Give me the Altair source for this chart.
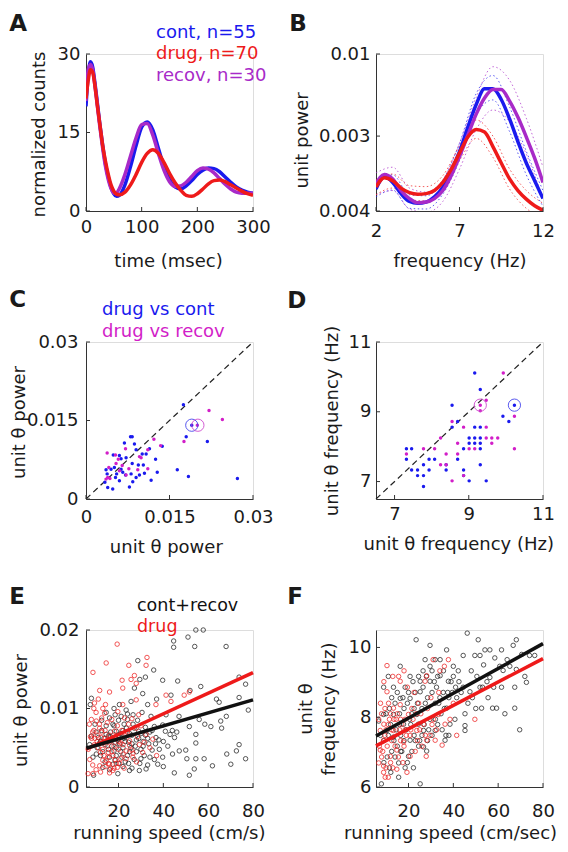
import json
import altair as alt
import pandas as pd

FONT = "DejaVu Sans"
BLUE = "#1a1aee"
RED = "#ee1a1a"
PURPLE = "#a82ac8"
MAGENTA = "#d21ec8"
AXC = "#333333"
TXT = "#1a1a1a"
W, H = 167, 157

# ---------------- Panel A: autocorrelograms ----------------
lag_ms = [0, 4, 8, 12, 16, 20, 25, 30, 35, 40, 45, 50, 55, 60, 70, 80, 90, 100, 110, 120,
          130, 140, 150, 160, 170, 180, 190, 200, 210, 220, 230, 240, 250, 260, 270, 280, 290, 300]
cont_counts = [20, 26, 28.5, 27.5, 24.5, 21, 16.5, 12.5, 9, 6.5, 4.5, 3.3, 2.8, 3, 5, 8.5, 12.5, 16, 17, 15.5,
               12, 8.5, 6, 4.6, 4.2, 4.8, 5.8, 7, 7.8, 8.2, 8.1, 7.5, 6.5, 5.5, 4.6, 4, 3.6, 3.4]
drug_counts = [21.5, 25, 27, 26.5, 24, 20.5, 16.5, 12.5, 9.5, 7, 5, 3.8, 3.2, 3.1, 3.6, 5, 7, 9.3, 11, 11.7,
               11, 9.3, 7.2, 5.4, 4, 3, 2.8, 3.3, 4.2, 5.2, 5.8, 5.9, 5.6, 5, 4.4, 3.8, 3.3, 3]
recov_counts = [21, 27, 28, 27, 24, 20.5, 16, 12, 8.5, 6, 4.3, 3.4, 3.5, 4.3, 7, 10.5, 14, 16.5, 16.7, 14.5,
                11, 7.8, 5.6, 4.7, 4.8, 5.5, 6.6, 7.7, 8.2, 8, 7.3, 6.2, 5.1, 4.2, 3.6, 3.4, 3.4, 3.4]
A_legend = ["cont, n=55", "drug, n=70", "recov, n=30"]
A_xticks, A_xlabels = [0, 100, 200, 300], ["0", "100", "200", "300"]
A_yticks, A_ylabels = [0, 15, 30], ["0", "15", "30"]

# ---------------- Panel B: power spectra ----------------
freq_hz = [2, 2.5, 3, 3.5, 4, 4.5, 5, 5.5, 6, 6.5, 7, 7.5, 8, 8.5, 9, 9.5, 10, 10.5, 11, 11.5, 12]
cont_power = [0.00138, 0.00165, 0.00152, 0.00129, 0.00115, 0.00112, 0.00114, 0.00123, 0.00142, 0.00180, 0.00239,
              0.00342, 0.00477, 0.00600, 0.00600, 0.00513, 0.00386, 0.00276, 0.00202, 0.00156, 0.00120]
recov_power = [0.00149, 0.00171, 0.00160, 0.00135, 0.00120, 0.00113, 0.00114, 0.00120, 0.00135, 0.00168, 0.00223,
               0.00304, 0.00414, 0.00525, 0.00595, 0.00595, 0.00501, 0.00395, 0.00296, 0.00217, 0.00152]
drug_power = [0.00142, 0.00163, 0.00156, 0.00140, 0.00131, 0.00128, 0.00129, 0.00135, 0.00152, 0.00184, 0.00234,
              0.00296, 0.00330, 0.00318, 0.00257, 0.00202, 0.00160, 0.00135, 0.00119, 0.00108, 0.00101]
band_freq = [2, 3, 4, 5, 6, 7, 8, 9, 10, 11, 12]
cont_upper = [0.00155, 0.00170, 0.00127, 0.00125, 0.00157, 0.00270, 0.00560, 0.00730, 0.00460, 0.00240, 0.00135]
cont_lower = [0.00123, 0.00136, 0.00104, 0.00103, 0.00128, 0.00210, 0.00410, 0.00510, 0.00320, 0.00170, 0.00107]
recov_upper = [0.00175, 0.00190, 0.00140, 0.00132, 0.00158, 0.00270, 0.00530, 0.00830, 0.00680, 0.00390, 0.00190]
recov_lower = [0.00127, 0.00135, 0.00103, 0.00098, 0.00115, 0.00185, 0.00330, 0.00440, 0.00370, 0.00230, 0.00120]
drug_upper = [0.00158, 0.00172, 0.00145, 0.00143, 0.00168, 0.00260, 0.00380, 0.00300, 0.00185, 0.00135, 0.00112]
drug_lower = [0.00127, 0.00140, 0.00118, 0.00116, 0.00137, 0.00210, 0.00290, 0.00220, 0.00138, 0.00104, 0.00091]
B_xticks, B_xlabels = [2, 7, 12], ["2", "7", "12"]
B_yticks, B_ylabels = [0.001, 0.003, 0.01], ["0.004", "0.003", "0.01"]

# ---------------- Panel C: unit theta power ----------------
C_cont_x = [0.0175, 0.0190, 0.0180, 0.0218, 0.0164, 0.0184, 0.0272, 0.0080, 0.0083, 0.0069, 0.0087, 0.0137, 0.0090,
            0.0114, 0.0101, 0.0108, 0.0060, 0.0049, 0.0083, 0.0094, 0.0103, 0.0125, 0.0128, 0.0051, 0.0063, 0.0036,
            0.0045, 0.0071, 0.0081, 0.0090, 0.0096, 0.0105, 0.0084, 0.0117, 0.0060, 0.0055, 0.0034, 0.0039, 0.0048,
            0.0078, 0.0053, 0.0066, 0.0038, 0.0072, 0.0063]
C_cont_y = [0.0180, 0.0141, 0.0119, 0.0110, 0.0056, 0.0043, 0.0039, 0.0119, 0.0119, 0.0107, 0.0105, 0.0101, 0.0094,
            0.0096, 0.0086, 0.0086, 0.0083, 0.0084, 0.0068, 0.0065, 0.0065, 0.0076, 0.0051, 0.0060, 0.0057, 0.0056,
            0.0057, 0.0046, 0.0048, 0.0041, 0.0046, 0.0049, 0.0033, 0.0036, 0.0035, 0.0048, 0.0032, 0.0022, 0.0019,
            0.0023, 0.0041, 0.0051, 0.0048, 0.0079, 0.0077]
C_recov_x = [0.0221, 0.0245, 0.0200, 0.0176, 0.0122, 0.0134, 0.0071, 0.0038, 0.0053, 0.0058, 0.0054, 0.0096, 0.0099,
             0.0111, 0.0077, 0.0093, 0.0111, 0.0060, 0.0041, 0.0039, 0.0043, 0.0036, 0.0072, 0.0065]
C_recov_y = [0.0169, 0.0152, 0.0141, 0.0110, 0.0114, 0.0102, 0.0096, 0.0088, 0.0084, 0.0076, 0.0068, 0.0081, 0.0079,
             0.0094, 0.0058, 0.0056, 0.0058, 0.0054, 0.0060, 0.0041, 0.0039, 0.0038, 0.0046, 0.0064]
C_marked_x, C_marked_y = [0.0190, 0.0201], [0.0141, 0.0141]
C_legend = ["drug vs cont", "drug vs recov"]
C_ticks, C_labels = [0, 0.015, 0.03], ["0", "0.015", "0.03"]

# ---------------- Panel D: unit theta frequency ----------------
D_cont_x = [9.16, 9.31, 8.55, 10.23, 9.92, 10.08, 8.70, 8.55, 9.16, 9.31, 9.01, 9.16, 9.31, 9.01, 9.16, 9.31, 8.86,
            9.31, 7.32, 7.46, 7.32, 7.93, 8.08, 8.70, 7.78, 8.39, 9.31, 7.46, 7.62, 7.93, 8.39, 8.86, 7.62, 7.78,
            9.01, 9.47, 7.78, 8.86]
D_cont_y = [10.11, 9.64, 9.19, 9.19, 8.87, 8.72, 8.72, 8.56, 8.56, 8.56, 8.25, 8.25, 8.25, 8.10, 8.10, 8.10, 7.94,
            7.94, 7.94, 7.94, 7.64, 7.64, 7.64, 7.64, 7.48, 7.48, 7.48, 7.33, 7.33, 7.33, 7.33, 7.33, 7.17, 7.17,
            7.02, 7.02, 6.86, 7.17]
D_recov_x = [9.93, 9.47, 9.31, 9.31, 10.23, 8.55, 8.86, 9.47, 8.24, 8.70, 9.16, 9.47, 9.62, 9.78, 9.62, 10.23, 7.78,
             8.08, 7.32, 8.39, 8.70, 8.24, 8.39, 8.86, 8.55, 9.01]
D_recov_y = [10.11, 9.33, 9.19, 9.03, 8.87, 8.72, 8.56, 8.56, 8.25, 8.10, 7.94, 8.25, 8.25, 8.25, 8.10, 7.94, 7.94,
             7.94, 7.79, 7.79, 7.79, 7.48, 7.48, 7.17, 7.02, 7.94]
D_marked_cont = [10.23, 9.19]
D_marked_recov = [9.31, 9.19]
D_ticks, D_labels = [7, 9, 11], ["7", "9", "11"]

# ---------------- Panel E: power vs running speed ----------------
E_cr_speed = [44.6, 44.6, 51.0, 54.5, 57.8, 54.0, 68.0, 28.6, 32.0, 35.7, 39.7, 46.4, 56.7, 51.9, 63.7, 64.9, 73.8,
              76.7, 73.8, 77.9, 68.1, 65.6, 66.0, 61.2, 56.0, 58.5, 51.6, 54.5, 54.5, 50.0, 47.1, 44.1, 39.7, 38.2,
              36.7, 40.9, 43.0, 45.0, 39.7, 36.0, 34.5, 33.0, 41.2, 43.4, 37.0, 30.8, 29.5, 27.1, 25.6, 24.0, 23.4,
              20.4, 21.2, 18.5, 16.0, 17.5, 19.0, 14.5, 11.6, 10.1, 8.6, 12.0, 16.0, 17.5, 13.0, 8.9, 19.7, 24.9,
              29.3, 32.3, 37.5, 44.9, 51.6, 53.8, 58.2, 61.9, 54.5, 50.5, 70.1, 68.3, 72.6, 73.8, 76.7, 7.9, 7.4,
              7.9, 7.1, 12.5, 13.5, 15.0, 16.5, 17.0, 18.0, 19.5, 20.5, 21.0, 22.0, 22.5, 23.5, 24.5, 25.0, 26.0,
              26.5, 27.5, 28.0, 29.0, 30.0, 31.0, 32.0, 33.5, 34.0, 35.0, 21.5, 23.0, 19.0, 15.5, 14.0, 11.0, 10.0,
              9.5, 12.5, 14.5, 18.0, 20.0, 22.5, 24.0, 26.5, 28.5, 30.5, 27.0, 29.5, 31.5, 33.0, 36.0, 16.5, 18.5,
              25.5]
E_cr_power = [0.0186, 0.0178, 0.0191, 0.0200, 0.0200, 0.0179, 0.0179, 0.0161, 0.0140, 0.0149, 0.0136, 0.0135,
              0.0128, 0.0123, 0.0112, 0.0108, 0.0114, 0.0131, 0.0140, 0.0098, 0.0090, 0.0084, 0.0075, 0.0077,
              0.0086, 0.0080, 0.0077, 0.0067, 0.0056, 0.0047, 0.0046, 0.0042, 0.0038, 0.0048, 0.0063, 0.0071,
              0.0067, 0.0063, 0.0079, 0.0077, 0.0090, 0.0105, 0.0092, 0.0117, 0.0112, 0.0119, 0.0137, 0.0126,
              0.0109, 0.0093, 0.0098, 0.0105, 0.0090, 0.0092, 0.0088, 0.0080, 0.0071, 0.0067, 0.0056, 0.0042,
              0.0038, 0.0040, 0.0038, 0.0029, 0.0025, 0.0015, 0.0017, 0.0021, 0.0021, 0.0023, 0.0029, 0.0018,
              0.0015, 0.0023, 0.0036, 0.0027, 0.0036, 0.0036, 0.0029, 0.0042, 0.0046, 0.0054, 0.0036, 0.0113,
              0.0105, 0.0065, 0.0054, 0.0072, 0.0062, 0.0058, 0.0064, 0.0052, 0.0046, 0.0060, 0.0055, 0.0068,
              0.0050, 0.0062, 0.0075, 0.0057, 0.0045, 0.0066, 0.0080, 0.0052, 0.0060, 0.0071, 0.0048, 0.0058,
              0.0066, 0.0055, 0.0038, 0.0072, 0.0038, 0.0032, 0.0040, 0.0048, 0.0054, 0.0063, 0.0070, 0.0080,
              0.0085, 0.0095, 0.0100, 0.0085, 0.0080, 0.0086, 0.0092, 0.0085, 0.0095, 0.0035, 0.0030, 0.0040,
              0.0028, 0.0035, 0.0070, 0.0057, 0.0050]
E_cr_speed_dense = [10.5, 12.0, 13.0, 14.5, 15.5, 17.0, 18.0, 19.0, 20.0, 21.0, 22.0, 23.0, 24.0, 25.0, 26.0, 27.0,
                    28.0, 29.0, 30.0, 31.0, 32.0, 33.0, 34.0, 35.0, 36.5, 38.0, 40.0, 42.0, 44.0, 46.0, 20.0, 22.0,
                    24.5, 26.0, 14.0, 16.0, 18.5, 30.0, 40.0, 47.0]
E_cr_power_dense = [0.0050, 0.0058, 0.0045, 0.0078, 0.0065, 0.0060, 0.0078, 0.0050, 0.0066, 0.0045, 0.0072, 0.0058,
                    0.0040, 0.0068, 0.0055, 0.0075, 0.0045, 0.0062, 0.0068, 0.0052, 0.0076, 0.0062, 0.0070, 0.0047,
                    0.0055, 0.0060, 0.0058, 0.0052, 0.0072, 0.0070, 0.0030, 0.0026, 0.0030, 0.0024, 0.0032, 0.0022,
                    0.0034, 0.0036, 0.0026, 0.0090]
E_drug_speed = [19.4, 32.7, 32.3, 24.6, 27.1, 8.6, 14.5, 21.6, 25.6, 21.9, 27.9, 16.0, 11.6, 9.3, 14.2, 21.9, 13.8,
                19.7, 22.7, 27.9, 36.7, 43.4, 41.2, 49.3, 51.6, 32.3, 35.3, 10.1, 7.9, 11.6, 12.3, 9.3, 13.0, 15.3,
                16.0, 11.6, 8.6, 17.5, 23.4, 26.4, 29.3, 24.9, 30.8, 27.9, 18.2, 6.4, 7.0, 8.5, 9.5, 10.5, 11.0,
                12.0, 13.5, 14.5, 15.5, 16.5, 17.0, 18.0, 19.0, 20.0, 21.0, 22.0, 23.0, 24.0, 10.0, 12.5, 15.0,
                16.0, 14.0, 20.5, 18.5, 26.0, 28.5, 30.0, 7.5, 13.0, 19.5, 22.5]
E_drug_power = [0.0182, 0.0165, 0.0155, 0.0155, 0.0142, 0.0146, 0.0158, 0.0136, 0.0137, 0.0126, 0.0132, 0.0121,
                0.0123, 0.0107, 0.0105, 0.0105, 0.0094, 0.0096, 0.0088, 0.0111, 0.0105, 0.0109, 0.0117, 0.0117,
                0.0121, 0.0067, 0.0061, 0.0084, 0.0086, 0.0075, 0.0063, 0.0054, 0.0048, 0.0038, 0.0029, 0.0027,
                0.0017, 0.0021, 0.0036, 0.0038, 0.0054, 0.0059, 0.0044, 0.0075, 0.0071, 0.0017, 0.0080, 0.0070,
                0.0062, 0.0058, 0.0050, 0.0044, 0.0040, 0.0034, 0.0030, 0.0024, 0.0045, 0.0052, 0.0062, 0.0048,
                0.0056, 0.0042, 0.0065, 0.0070, 0.0095, 0.0088, 0.0082, 0.0066, 0.0072, 0.0030, 0.0035, 0.0047,
                0.0064, 0.0078, 0.0064, 0.0056, 0.0025, 0.0024]
E_drug_speed_dense = [8.0, 9.0, 10.5, 11.5, 12.5, 13.0, 14.0, 15.0, 15.5, 16.5, 17.5, 18.5, 19.0, 20.0, 21.0, 22.0,
                      23.5, 25.0, 26.5, 8.5, 10.0, 12.0, 14.0, 16.0, 18.0, 9.0, 11.0, 13.0, 17.0, 19.5, 21.5, 24.5,
                      26.0, 29.0, 31.5, 34.0, 37.0, 28.0, 6.5, 7.2]
E_drug_power_dense = [0.0062, 0.0072, 0.0066, 0.0080, 0.0070, 0.0034, 0.0062, 0.0052, 0.0044, 0.0058, 0.0040,
                      0.0064, 0.0030, 0.0058, 0.0036, 0.0054, 0.0046, 0.0053, 0.0043, 0.0028, 0.0022, 0.0019,
                      0.0026, 0.0018, 0.0024, 0.0100, 0.0112, 0.0100, 0.0086, 0.0078, 0.0072, 0.0080, 0.0087,
                      0.0092, 0.0057, 0.0050, 0.0040, 0.0032, 0.0048, 0.0035]
E_fit_speed = [5.6, 80]
E_fit_cr = [0.00494, 0.0111]
E_fit_drug = [0.00481, 0.01456]
E_legend = ["cont+recov", "drug"]
E_xticks, E_xlabels = [20, 40, 60, 80], ["20", "40", "60", "80"]
E_yticks, E_ylabels = [0, 0.01, 0.02], ["0", "0.01", "0.02"]

# ---------------- Panel F: frequency vs running speed ----------------
F_cr_speed = [46.2, 23.4, 68.1, 51.1, 29.6, 37.0, 54.1, 56.3, 61.5, 66.7, 74.0, 76.3, 44.4, 49.6, 51.9, 31.9, 34.1,
              27.4, 40.0, 42.2, 35.6, 29.6, 20.7, 25.2, 29.6, 34.1, 37.8, 44.4, 47.4, 51.9, 56.3, 60.7, 62.2, 65.2,
              68.1, 71.9, 72.6, 67.4, 61.5, 59.3, 63.0, 67.4, 69.6, 52.6, 45.2, 45.2, 45.2, 40.7, 37.0, 31.9, 25.2,
              20.7, 16.3, 13.3, 16.3, 8.9, 6.7, 8.9, 13.3, 17.8, 23.7, 24.4, 29.6, 26.7, 31.9, 36.3, 36.7, 20.7,
              26.7, 28.1, 20.0, 15.6, 12.1, 15.6, 25.2, 7.9, 22.2, 10.4, 13.3, 11.5, 14.0, 16.0, 18.0, 19.5, 21.5,
              22.5, 24.0, 26.0, 27.5, 28.5, 30.5, 32.5, 34.0, 35.5, 38.0, 39.5, 41.0, 42.5, 40.0, 33.0, 30.5, 26.5,
              23.0, 18.5, 12.0, 14.5, 16.5, 19.0, 21.0, 22.5, 25.0, 27.0, 28.5, 30.5, 33.0, 34.5, 38.5, 15.0, 17.0,
              12.5, 10.5, 18.5, 9.0, 7.5, 11.0, 48.0, 50.5, 53.5, 58.5, 64.0, 70.5, 55.5, 57.5]
F_cr_freq = [10.41, 10.22, 10.22, 10.22, 10.06, 9.93, 9.93, 9.93, 9.93, 10.06, 9.77, 9.77, 9.77, 9.77, 9.77, 9.65,
             9.65, 9.65, 9.46, 9.33, 9.33, 9.46, 9.17, 9.03, 9.03, 9.19, 9.03, 8.86, 8.73, 8.86, 9.14, 9.46, 9.34,
             9.46, 9.37, 9.17, 9.00, 8.86, 8.86, 8.26, 8.10, 8.26, 7.64, 8.26, 8.10, 7.76, 7.62, 7.94, 8.26, 8.40,
             8.73, 8.54, 8.54, 8.86, 9.46, 8.86, 7.89, 8.08, 8.08, 7.80, 8.08, 7.80, 7.94, 7.62, 7.62, 7.34, 7.48,
             7.34, 7.15, 7.03, 6.88, 6.69, 6.42, 6.28, 6.09, 6.09, 6.55, 7.62, 7.43, 8.25, 8.40, 8.10, 8.25, 8.40,
             8.10, 8.25, 8.40, 8.25, 8.40, 8.56, 8.71, 8.86, 8.56, 8.71, 8.56, 8.71, 8.86, 9.02, 9.17, 9.17, 9.33,
             8.86, 8.71, 8.86, 7.79, 7.64, 7.48, 7.64, 7.79, 7.48, 7.33, 7.79, 7.33, 7.48, 7.79, 8.10, 7.80, 7.17,
             7.02, 7.02, 6.86, 6.55, 7.33, 7.48, 9.17, 9.33, 9.17, 9.50, 9.70, 9.65, 9.80, 8.56, 8.26]
F_cr_speed_dense = [10.0, 12.5, 15.0, 17.5, 20.0, 22.0, 24.5, 26.5, 28.0, 31.5, 33.5, 36.0, 37.5, 39.0, 41.5, 43.5,
                    46.5, 48.5, 50.0, 53.0, 55.0, 58.0, 11.0, 13.5, 16.0, 18.0, 20.5, 23.0, 24.5, 26.0, 29.0, 32.0,
                    35.0, 38.0, 14.0, 16.5, 19.5, 21.5, 9.0, 11.5]
F_cr_freq_dense = [8.10, 8.56, 8.71, 8.56, 8.71, 9.02, 9.17, 9.33, 9.17, 9.02, 8.40, 8.25, 8.71, 9.02, 8.56, 8.71,
                   8.40, 8.56, 8.25, 8.86, 9.02, 8.86, 7.48, 7.33, 7.79, 7.33, 7.94, 7.33, 7.17, 7.48, 7.64, 7.94,
                   7.64, 7.48, 6.86, 7.02, 6.70, 7.02, 6.70, 6.55]
F_drug_speed = [10.4, 15.6, 16.3, 10.4, 28.1, 27.4, 37.8, 11.1, 6.7, 7.4, 8.9, 7.4, 11.9, 8.9, 8.9, 9.6, 14.8, 19.3,
                14.8, 17.8, 20.7, 23.7, 26.7, 31.1, 33.3, 36.3, 41.5, 49.6, 27.9, 28.1, 23.0, 20.0, 16.3, 13.3, 17.0,
                13.3, 29.6, 31.9, 35.0, 20.7, 6.7, 8.0, 9.5, 12.0, 14.5, 16.0, 18.5, 21.5, 24.5, 22.5, 19.5, 12.5,
                10.5, 15.5, 17.5, 13.0, 11.0, 24.0, 26.0, 31.0, 30.0, 33.5, 9.0, 11.5, 18.0, 25.5, 34.0, 36.0]
F_drug_freq = [9.48, 9.17, 9.03, 8.73, 9.19, 9.03, 9.65, 8.40, 7.94, 7.62, 7.34, 7.06, 6.88, 6.60, 6.42, 6.28, 6.51,
               6.42, 7.06, 7.29, 7.48, 7.62, 7.80, 7.94, 8.08, 7.80, 7.48, 7.94, 6.88, 7.34, 7.02, 8.08, 8.36, 8.26,
               7.80, 7.62, 7.48, 7.34, 7.20, 6.88, 6.69, 8.10, 8.25, 8.10, 7.94, 7.64, 7.94, 8.25, 8.40, 8.71, 8.86,
               7.33, 7.17, 6.86, 6.70, 6.55, 6.28, 7.33, 7.17, 9.65, 8.56, 8.71, 7.80, 7.94, 7.17, 8.10, 9.33, 9.46]
F_drug_speed_dense = [7.0, 8.5, 9.5, 10.0, 11.0, 12.5, 13.5, 15.0, 16.5, 19.0, 21.0, 22.0, 23.5, 25.0, 27.5, 28.5,
                      30.5, 32.5, 38.5, 40.0, 8.0, 10.0, 12.0, 14.0, 16.5, 18.5, 7.5, 9.0, 13.0, 18.0]
F_drug_freq_dense = [7.17, 7.02, 7.48, 7.64, 7.79, 7.64, 7.94, 8.10, 7.94, 7.48, 7.64, 7.94, 8.10, 7.64, 7.48, 8.25,
                     7.79, 7.64, 7.94, 8.40, 6.86, 6.55, 6.70, 7.17, 7.33, 7.64, 8.40, 9.02, 9.17, 9.33]
F_fit_speed = [5.5, 80]
F_fit_cr = [7.46, 10.11]
F_fit_drug = [7.18, 9.68]
F_xticks, F_xlabels = [20, 40, 60, 80], ["20", "40", "60", "80"]
F_yticks, F_ylabels = [6, 8, 10], ["6", "8", "10"]


# ---------------- helpers ----------------
def lab_expr(ticks, labels):
    return f"{json.dumps(labels)}[indexof({json.dumps(ticks)}, datum.value)]"


def make_axis(ticks, labels, title, pad, tx, ty, angle=0, lh=None):
    kw = dict(values=ticks, labelExpr=lab_expr(ticks, labels), title=title, ticks=False, tickSize=0,
              labelPadding=pad, grid=False, domainColor=AXC, domainWidth=1, labelFont=FONT, labelFontSize=18,
              labelColor=TXT, titleFont=FONT, titleFontSize=18, titleFontWeight="normal", titleColor=TXT,
              titleX=tx, titleY=ty, titleAngle=angle, titleAlign="center", titleBaseline="alphabetic",
              labelFlush=False, labelOverlap=False)
    if lh:
        kw["titleLineHeight"] = lh
    return alt.Axis(**kw)


def tick_layers(xticks, yticks, X, Y):
    # short inward tick marks drawn on the tick values through the panel's own scales
    xr = alt.Chart(pd.DataFrame({"x": xticks})).mark_rule(color=AXC, strokeWidth=1).encode(
        x=X, y=alt.value(H), y2=alt.value(H - 4))
    yr = alt.Chart(pd.DataFrame({"y": yticks})).mark_rule(color=AXC, strokeWidth=1).encode(
        y=Y, x=alt.value(0), x2=alt.value(4))
    return [xr, yr]


def label(text, x, y, color=TXT, size=18, weight="normal"):
    return alt.Chart(pd.DataFrame({"s": [text]})).mark_text(
        align="left", baseline="alphabetic", font=FONT, fontSize=size, fontWeight=weight, color=color
    ).encode(text="s:N", x=alt.value(x), y=alt.value(y))


def series_line(xs_vals, ys_vals, X, Y, color, width=3.5, dash=None, opacity=1.0):
    props = dict(color=color, strokeWidth=width, interpolate="monotone", clip=True, opacity=opacity)
    if dash:
        props["strokeDash"] = dash
    return alt.Chart(pd.DataFrame({"x": xs_vals, "y": ys_vals})).mark_line(**props).encode(x=X, y=Y)


def scatter_dots(xv, yv, X, Y, color, size=12):
    return alt.Chart(pd.DataFrame({"x": xv, "y": yv})).mark_circle(size=size, color=color, opacity=1).encode(x=X, y=Y)


def ring(xv, yv, X, Y, color):
    return alt.Chart(pd.DataFrame({"x": xv, "y": yv})).mark_point(
        shape="circle", filled=False, size=150, color=color, strokeWidth=1, opacity=0.9).encode(x=X, y=Y)


def diag(lo, hi, X, Y):
    return alt.Chart(pd.DataFrame({"x": [lo, hi], "y": [lo, hi]})).mark_line(
        color="#222222", strokeWidth=1.2, strokeDash=[6, 4]).encode(x=X, y=Y)


def rings(xv, yv, X, Y, color):
    return alt.Chart(pd.DataFrame({"x": xv, "y": yv})).mark_point(
        shape="circle", filled=False, size=20, color=color, strokeWidth=0.9, opacity=0.85).encode(x=X, y=Y)


def fit(xv, yv, X, Y, color):
    return alt.Chart(pd.DataFrame({"x": xv, "y": yv})).mark_line(color=color, strokeWidth=3.5).encode(x=X, y=Y)


LX = -76.7  # left-column panel letters
RX = -86.7  # right-column panel letters

# ---------------- Panel A ----------------
XA = alt.X("x:Q", scale=alt.Scale(domain=[0, 300], nice=False, zero=False),
           axis=make_axis(A_xticks, A_xlabels, "time (msec)", 7, 82, 55))
YA = alt.Y("y:Q", scale=alt.Scale(domain=[0, 30], nice=False),
           axis=make_axis(A_yticks, A_ylabels, "normalized counts", 6, -41.7, 80, 270))
pA = alt.layer(
    series_line(lag_ms, cont_counts, XA, YA, BLUE),
    series_line(lag_ms, recov_counts, XA, YA, PURPLE),
    series_line(lag_ms, drug_counts, XA, YA, RED),
    *tick_layers(A_xticks, A_yticks, XA, YA),
    label("A", LX, -23, size=23, weight="bold"),
    label(A_legend[0], 70, -15.7, BLUE),
    label(A_legend[1], 70, 5.3, RED),
    label(A_legend[2], 70, 27, PURPLE),
).properties(width=W, height=H)

# ---------------- Panel B ----------------
XB = alt.X("x:Q", scale=alt.Scale(domain=[2, 12], nice=False, zero=False),
           axis=make_axis(B_xticks, B_xlabels, "frequency (Hz)", 11, 83.5, 55))
YB = alt.Y("y:Q", scale=alt.Scale(type="log", domain=[0.001, 0.01], nice=False),
           axis=make_axis(B_yticks, B_ylabels, "unit power", 6, -68.7, 86, 270))
dot = [1.5, 2.5]
pB = alt.layer(
    series_line(band_freq, cont_upper, XB, YB, BLUE, 1, dot, 0.7),
    series_line(band_freq, cont_lower, XB, YB, BLUE, 1, dot, 0.7),
    series_line(band_freq, recov_upper, XB, YB, PURPLE, 1, dot, 0.7),
    series_line(band_freq, recov_lower, XB, YB, PURPLE, 1, dot, 0.7),
    series_line(band_freq, drug_upper, XB, YB, RED, 1, dot, 0.7),
    series_line(band_freq, drug_lower, XB, YB, RED, 1, dot, 0.7),
    series_line(freq_hz, cont_power, XB, YB, BLUE),
    series_line(freq_hz, recov_power, XB, YB, PURPLE),
    series_line(freq_hz, drug_power, XB, YB, RED),
    *tick_layers(B_xticks, B_yticks, XB, YB),
    label("B", RX, -23, size=23, weight="bold"),
).properties(width=W, height=H)

# ---------------- Panel C ----------------
XC = alt.X("x:Q", scale=alt.Scale(domain=[0, 0.03], nice=False, zero=False),
           axis=make_axis(C_ticks, C_labels, "unit θ power", 9, 79.8, 53))
YC = alt.Y("y:Q", scale=alt.Scale(domain=[0, 0.03], nice=False, zero=False),
           axis=make_axis(C_ticks, C_labels, "unit θ power", 8, -62, 80, 270))
pC = alt.layer(
    diag(0, 0.03, XC, YC),
    scatter_dots(C_cont_x, C_cont_y, XC, YC, BLUE),
    scatter_dots(C_recov_x, C_recov_y, XC, YC, MAGENTA),
    ring(C_marked_x[:1], C_marked_y[:1], XC, YC, "#4848ee"),
    ring(C_marked_x[1:], C_marked_y[1:], XC, YC, "#d04cd0"),
    *tick_layers(C_ticks, C_ticks, XC, YC),
    label("C", LX, -35, size=23, weight="bold"),
    label(C_legend[0], 16, -27, BLUE),
    label(C_legend[1], 16, -5, MAGENTA),
).properties(width=W, height=H)

# ---------------- Panel D ----------------
XD = alt.X("x:Q", scale=alt.Scale(domain=[6.5, 11], nice=False, zero=False),
           axis=make_axis(D_ticks, D_labels, "unit θ frequency (Hz)", 6, 82.3, 50))
YD = alt.Y("y:Q", scale=alt.Scale(domain=[6.5, 11], nice=False, zero=False),
           axis=make_axis(D_ticks, D_labels, "unit θ frequency (Hz)", 5, -39, 78.5, 270))
pD = alt.layer(
    diag(6.5, 11, XD, YD),
    scatter_dots(D_cont_x, D_cont_y, XD, YD, BLUE),
    scatter_dots(D_recov_x, D_recov_y, XD, YD, MAGENTA),
    ring([D_marked_cont[0]], [D_marked_cont[1]], XD, YD, "#4848ee"),
    ring([D_marked_recov[0]], [D_marked_recov[1]], XD, YD, "#d04cd0"),
    *tick_layers(D_ticks, D_ticks, XD, YD),
    label("D", RX - 2, -34, size=23, weight="bold"),
).properties(width=W, height=H)

# ---------------- Panel E ----------------
XE = alt.X("x:Q", scale=alt.Scale(domain=[5.5, 80], nice=False, zero=False),
           axis=make_axis(E_xticks, E_xlabels, "running speed (cm/s)", 15, 82.8, 51))
YE = alt.Y("y:Q", scale=alt.Scale(domain=[0, 0.02], nice=False),
           axis=make_axis(E_yticks, E_ylabels, "unit θ power", 7, -59.7, 80, 270))
pE = alt.layer(
    rings(E_cr_speed + E_cr_speed_dense, E_cr_power + E_cr_power_dense, XE, YE, "#222222"),
    rings(E_drug_speed + E_drug_speed_dense, E_drug_power + E_drug_power_dense, XE, YE, "#ee2222"),
    fit(E_fit_speed, E_fit_drug, XE, YE, RED),
    fit(E_fit_speed, E_fit_cr, XE, YE, "#111111"),
    *tick_layers(E_xticks, E_yticks, XE, YE),
    label("E", LX, -26, size=23, weight="bold"),
    label(E_legend[0], 51, -19, "#111111", size=17.5),
    label(E_legend[1], 51, 1.5, RED, size=17.5),
).properties(width=W, height=H)

# ---------------- Panel F ----------------
XF = alt.X("x:Q", scale=alt.Scale(domain=[5.5, 80], nice=False, zero=False),
           axis=make_axis(F_xticks, F_xlabels, "running speed (cm/sec)", 15, 74, 51))
YF = alt.Y("y:Q", scale=alt.Scale(domain=[6, 10.5], nice=False, zero=False),
           axis=make_axis(F_yticks, F_ylabels, ["unit θ", "frequency (Hz)"], 5, -64.7, 78.5, 270, lh=23))
pF = alt.layer(
    rings(F_cr_speed + F_cr_speed_dense, F_cr_freq + F_cr_freq_dense, XF, YF, "#222222"),
    rings(F_drug_speed + F_drug_speed_dense, F_drug_freq + F_drug_freq_dense, XF, YF, "#ee2222"),
    fit(F_fit_speed, F_fit_drug, XF, YF, RED),
    fit(F_fit_speed, F_fit_cr, XF, YF, "#111111"),
    *tick_layers(F_xticks, F_yticks, XF, YF),
    label("F", RX - 2, -26, size=23, weight="bold"),
).properties(width=W, height=H)

chart = alt.concat(
    pA, pB, pC, pD, pE, pF, columns=2, spacing={"row": 131, "column": 123}, bounds="flush"
).properties(
    padding={"top": 4, "left": 0, "right": 0, "bottom": 0}
).configure_view(strokeWidth=0).configure(background="white")

chart.save("out.html", embed_options={"renderer": "svg", "actions": False})
